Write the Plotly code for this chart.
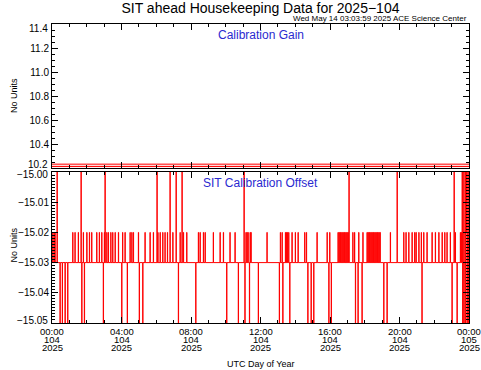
import plotly.graph_objects as go

# ---------------- data ----------------
# Calibration gain: value band (toggles between two levels all day)
gain_hours = [0.0, 24.0]
gain_low = [10.213, 10.213]
gain_high = [10.233, 10.233]

# Calibration offset: baseline level and short excursions (hours of day 104)
offset_base = -15.03
offset_up_1502 = [0.04, 0.12, 0.17, 1.19, 1.32, 1.51, 1.80, 2.00, 2.15, 2.28, 2.57, 2.72,
                  2.86, 3.01, 3.15, 3.24, 3.38, 3.49, 3.63, 3.82, 4.06, 4.20, 4.49, 4.59,
                  4.68, 4.97, 5.35, 5.64, 5.83, 6.09, 6.22, 6.37, 6.50, 6.64, 6.95, 7.37,
                  7.56, 7.75, 8.42, 8.52, 8.71, 8.81, 9.28, 9.67, 9.86, 10.24, 10.53,
                  11.16, 11.22, 11.28, 11.40, 11.45, 12.37, 13.14, 13.24, 13.43, 13.49,
                  13.55, 13.62, 13.81, 14.00, 14.16, 14.54, 14.64, 15.25, 15.83, 15.98,
                  16.46, 16.52, 16.58, 16.63, 16.69, 16.75, 16.81, 16.86, 16.92, 16.98,
                  17.04, 17.31, 17.41, 17.65, 17.89, 18.13, 18.19, 18.25, 18.30, 18.36,
                  18.42, 18.48, 18.53, 18.59, 18.65, 18.71, 18.76, 18.82, 18.88, 19.47,
                  20.24, 20.37, 20.53, 20.72, 20.87, 20.95, 21.11, 21.25, 21.39, 21.58,
                  21.87, 22.06, 22.26, 22.45, 22.60, 22.73, 22.92, 23.21, 23.50, 23.56]
offset_up_1500 = [0.29, 1.67, 3.05, 6.04, 6.79, 7.14, 7.48, 11.05, 17.09, 19.86, 23.14]
offset_down_1505 = [0.46, 0.59, 0.75, 0.90, 1.71, 1.86, 2.95, 4.01, 4.33, 5.02, 5.22, 7.27,
                    8.27, 10.05, 10.72, 11.10, 11.36, 11.87, 13.08, 13.28, 13.68, 14.72,
                    14.91, 15.06, 15.93, 16.07, 17.46, 17.61, 17.84, 19.09, 19.28, 21.29,
                    23.02, 23.31]
# rapid toggling at the very end of the day
offset_end_hours = [23.60, 23.63, 23.66, 23.70, 23.73, 23.76, 23.80, 23.83, 23.86, 23.90,
                    23.93, 23.96, 24.00]
offset_end_values = [-15.00, -15.05, -15.00, -15.05, -15.02, -15.00, -15.05, -15.00,
                     -15.02, -15.05, -15.00, -15.05, -15.02]

tick_hours = [0, 4, 8, 12, 16, 20, 24]
tick_time = ["00:00", "04:00", "08:00", "12:00", "16:00", "20:00", "00:00"]
tick_doy = ["104", "104", "104", "104", "104", "104", "105"]
tick_year = ["2025", "2025", "2025", "2025", "2025", "2025", "2025"]

gain_ticks = [10.2, 10.4, 10.6, 10.8, 11.0, 11.2, 11.4]
gain_ticktext = ["10.2", "10.4", "10.6", "10.8", "11.0", "11.2", "11.4"]
offset_ticks = [-15.05, -15.04, -15.03, -15.02, -15.01, -15.00]
offset_ticktext = ["\u221215.05", "\u221215.04", "\u221215.03", "\u221215.02", "\u221215.01",
                   "\u221215.00"]

# ---------------- build offset series ----------------
PULSE = 0.015
events = ([(t, -15.02) for t in offset_up_1502] +
          [(t, -15.00) for t in offset_up_1500] +
          [(t, -15.05) for t in offset_down_1505])
events.sort()
ox, oy = [0.0], [offset_base]
for t, lv in events:
    ox += [t, t + PULSE]
    oy += [lv, offset_base]
ox += offset_end_hours
oy += offset_end_values

FONT = "Liberation Sans, Arial, sans-serif"
RED = "#ff0000"
BLUE = "#2a2ad0"

fig = go.Figure()
fig.add_trace(go.Scatter(x=gain_hours, y=gain_low, mode="lines", xaxis="x2", yaxis="y2",
                         line=dict(color=RED, width=1), showlegend=False, hoverinfo="skip"))
fig.add_trace(go.Scatter(x=gain_hours, y=gain_high, mode="lines", xaxis="x2", yaxis="y2",
                         fill="tonexty", fillcolor="rgba(255,0,0,0.15)",
                         line=dict(color=RED, width=1), showlegend=False))
fig.add_trace(go.Scatter(x=ox, y=oy, mode="lines", xaxis="x", yaxis="y",
                         line=dict(color=RED, width=1, shape="hv"), showlegend=False))

axis_common = dict(showline=True, linecolor="black", linewidth=1, mirror="ticks",
                   ticks="inside", tickcolor="black", tickwidth=1, showgrid=False,
                   zeroline=False)
xcommon = dict(axis_common, range=[0, 24], tickvals=tick_hours, ticklen=6,
               showticklabels=False,
               minor=dict(dtick=1, tick0=0, ticks="inside", ticklen=3, tickcolor="black"))

# inner tick labels via axis; end labels (nudged inward as in the original) via annotations
g_inner = [s if 0 < i < len(gain_ticktext) - 1 else "" for i, s in enumerate(gain_ticktext)]
o_inner = [s if 0 < i < len(offset_ticktext) - 1 else "" for i, s in enumerate(offset_ticktext)]

fig.update_layout(
    width=481, height=370,
    margin=dict(l=52, r=12, t=24, b=47),
    paper_bgcolor="white", plot_bgcolor="white",
    font=dict(family=FONT, color="black", size=9),
    xaxis=dict(xcommon, anchor="y", domain=[0, 1]),
    xaxis2=dict(xcommon, anchor="y2", domain=[0, 1]),
    yaxis=dict(axis_common, anchor="x", domain=[0, 0.505], range=[-15.05, -15.00],
               tickvals=offset_ticks, ticktext=o_inner, ticklen=6,
               tickfont=dict(size=10, family=FONT),
               minor=dict(dtick=0.001, ticks="inside", ticklen=3, tickcolor="black")),
    yaxis2=dict(axis_common, anchor="x2", domain=[0.518, 1], range=[10.2, 11.4],
                tickvals=gain_ticks, ticktext=g_inner, ticklen=6,
                tickfont=dict(size=10, family=FONT),
                minor=dict(dtick=0.05, ticks="inside", ticklen=3, tickcolor="black")),
    title=dict(text="SIT ahead Housekeeping Data for 2025\u2212104", x=0.5415, xanchor="center",
               y=0.978, yanchor="middle", font=dict(size=14, family=FONT)),
)

ann = []
ann.append(dict(text="Wed May 14 03:03:59 2025 ACE Science Center", xref="paper", yref="paper",
                x=1, y=1, xanchor="right", yanchor="bottom", yshift=-1, showarrow=False,
                font=dict(size=8, family=FONT)))
ann.append(dict(text="Calibration Gain", xref="paper", yref="paper", x=0.5, y=1,
                xanchor="center", yanchor="top", yshift=-2, showarrow=False,
                font=dict(size=12, family=FONT, color=BLUE)))
ann.append(dict(text="SIT Calibration Offset", xref="paper", yref="paper", x=0.5, y=0.505,
                xanchor="center", yanchor="top", yshift=-2, showarrow=False,
                font=dict(size=12, family=FONT, color=BLUE)))
for yc in [0.759, 0.259]:
    ann.append(dict(text="No Units", xref="paper", yref="paper", x=-38 / 417, y=yc,
                    xanchor="center", yanchor="middle", textangle=-90, showarrow=False,
                    font=dict(size=9, family=FONT)))
# end tick labels
for txt, yv, yr, sh in [(gain_ticktext[-1], gain_ticks[-1], "y2", -4),
                        (gain_ticktext[0], gain_ticks[0], "y2", 4),
                        (offset_ticktext[-1], offset_ticks[-1], "y", -2),
                        (offset_ticktext[0], offset_ticks[0], "y", 2.5)]:
    ann.append(dict(text=txt, xref="paper", yref=yr, x=0, y=yv, xanchor="right",
                    yanchor="middle", xshift=-2, yshift=sh, showarrow=False,
                    font=dict(size=10, family=FONT)))
for t, a, b, c in zip(tick_hours, tick_time, tick_doy, tick_year):
    for txt, sh in [(a, -8), (b, -16), (c, -24)]:
        ann.append(dict(text=txt, xref="x", yref="paper", x=t, y=0, yanchor="middle",
                        xanchor="center", yshift=sh, showarrow=False,
                        font=dict(size=9.5, family=FONT)))
ann.append(dict(text="UTC Day of Year", xref="paper", yref="paper", x=0.5, y=0,
                xanchor="center", yanchor="middle", yshift=-41, showarrow=False,
                font=dict(size=9, family=FONT)))
fig.update_layout(annotations=ann)

fig.write_html("out.html", config={"displayModeBar": False},
               post_script="document.body.style.margin='0';document.body.style.padding='0';")
